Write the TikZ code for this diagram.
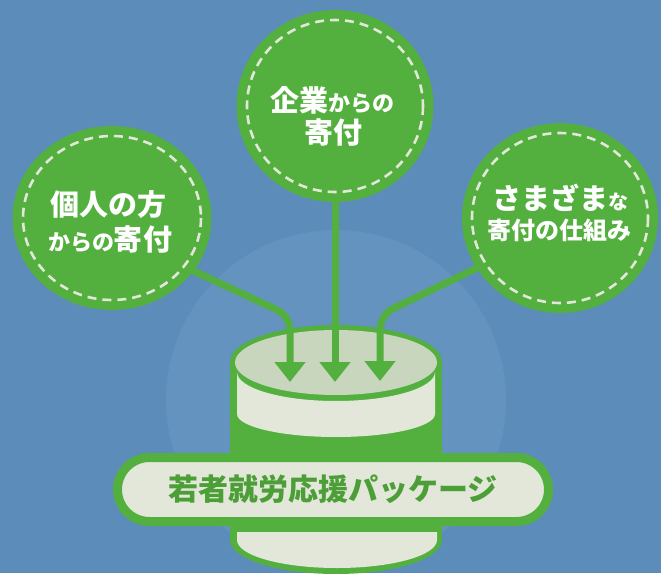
\documentclass[tikz,border=0pt]{standalone}
\usepackage{fontspec}
\newfontfamily\cjk{Noto Sans CJK JP}
\usetikzlibrary{arrows.meta,shapes.geometric}
\definecolor{bgblue}{RGB}{92,140,185}
\definecolor{bglight}{RGB}{99,147,190}
\definecolor{leaf}{RGB}{84,176,62}
\definecolor{pale}{RGB}{226,231,218}
\definecolor{paletop}{RGB}{200,214,190}
\definecolor{labgreen}{RGB}{76,158,54}
\newcommand{\bigtxt}{\fontsize{29}{29}\selectfont}
\newcommand{\smalltxt}{\fontsize{22}{22}\selectfont}
\pgfdeclarelayer{back}
\pgfdeclarelayer{mid}
\pgfsetlayers{back,mid,main}
\begin{document}
\begin{tikzpicture}[x=1pt,y=-1pt,
  bubble/.style={ellipse, fill=leaf, inner sep=0pt},
  stitch/.style={draw=pale, line width=2.6pt, dash pattern=on 9pt off 6pt},
  flow/.style={draw=leaf, line width=7pt, rounded corners=14pt, shorten <=-8pt,
    -{Triangle[width=30pt,length=20pt]}},
  btxt/.style={text=white, inner sep=0pt, font=\cjk\bfseries\bigtxt},
  pkgbox/.style={fill=pale, draw=leaf, line width=9pt, rounded corners=32pt,
    minimum width=431pt, minimum height=64pt, inner sep=0pt,
    text=labgreen, font=\cjk\bfseries\fontsize{30}{30}\selectfont},
]
\useasboundingbox (0,0) rectangle (661,573);
\begin{pgfonlayer}{back}
\fill[bgblue] (0,0) rectangle (661,573);
\fill[bglight] (336,400) circle (170);
% cylinder
\fill[leaf] (230,362) rectangle (442,540);
\fill[leaf] (336,362) ellipse [x radius=106, y radius=37];
\fill[leaf] (336,540) ellipse [x radius=106, y radius=34];
\fill[paletop] (336,362.5) ellipse [x radius=101, y radius=32.5];
\fill[pale] (237,372) -- (237,414) arc[start angle=180,end angle=0,x radius=99,y radius=23]
  -- (435,372) arc[start angle=0,end angle=180,x radius=99,y radius=29] -- cycle;
\fill[pale] (237,532) -- (237,540) arc[start angle=180,end angle=0,x radius=100,y radius=28]
  -- (437,532) -- cycle;
\end{pgfonlayer}

% circles (nodes)
\node[bubble, minimum width=199pt, minimum height=184pt] (kojin) at (112,218) {};
\node[bubble, minimum width=197pt, minimum height=192pt] (kigyo) at (335,106) {};
\node[bubble, minimum width=196pt, minimum height=190pt] (shikumi) at (560,218) {};
\draw[stitch] (kojin.center) ellipse [x radius=89, y radius=82];
\draw[stitch] (kigyo.center) ellipse [x radius=88, y radius=86];
\draw[stitch] (shikumi.center) ellipse [x radius=88, y radius=85];

% texts
\node[btxt] (k1) at (108,205) {個人の方};
\node[btxt] (k2) at (110,240) {{\smalltxt からの}寄付};
\node[btxt] (g1) at (332.5,100) {企業{\smalltxt からの}};
\node[btxt] (g2) at (333,133) {寄付};
\node[btxt] (s1) at (560,198) {さまざま{\fontsize{20}{20}\selectfont な}};
\node[btxt, font=\cjk\bfseries\fontsize{24}{24}\selectfont] (s2) at (559.5,230) {寄付の仕組み};

% connector coordinates
\coordinate (bendL) at (290,316);
\coordinate (tipL) at (290,382);
\coordinate (tipM) at (335,382);
\coordinate (bendR) at (380,315);
\coordinate (tipR) at (380,381);

\begin{pgfonlayer}{mid}
\draw[flow] (kojin.-33) -- (bendL) -- (tipL);
\draw[flow] (kigyo.south) -- (tipM);
\draw[flow] (shikumi.211) -- (bendR) -- (tipR);
\end{pgfonlayer}

% package label
\node[pkgbox] (pkg) at (333,489.5) {若者就労応援パッケージ};
\end{tikzpicture}
\end{document}
